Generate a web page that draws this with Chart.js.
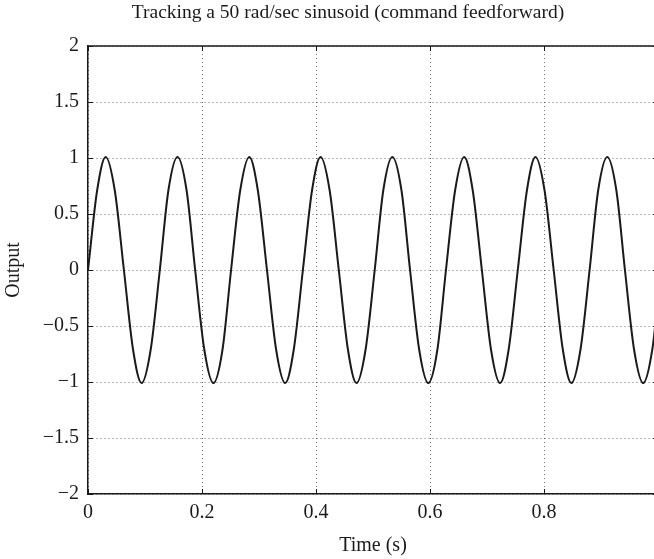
<!DOCTYPE html>
<html><head><meta charset="utf-8">
<style>
html,body{margin:0;padding:0;overflow:hidden;background:#fff;}
canvas{display:block;}
</style>
<script src="https://cdn.jsdelivr.net/npm/chart.js@4/dist/chart.umd.min.js"></script>
</head><body>
<canvas id="c" width="654" height="559" style="width:654px;height:559px"></canvas>
<script>
const chartTitle = 'Tracking a 50 rad/sec sinusoid (command feedforward)';
const xAxisLabel = 'Time (s)';
const yAxisLabel = 'Output';

// values (time in s, output)
const timeS = [0, 0.016, 0.031, 0.047, 0.063, 0.079, 0.094, 0.110,
  0.126, 0.141, 0.157, 0.173, 0.188, 0.204, 0.220, 0.236,
  0.251, 0.267, 0.283, 0.298, 0.314, 0.330, 0.346, 0.361,
  0.377, 0.393, 0.408, 0.424, 0.440, 0.456, 0.471, 0.487,
  0.503, 0.518, 0.534, 0.550, 0.565, 0.581, 0.597, 0.613,
  0.628, 0.644, 0.660, 0.675, 0.691, 0.707, 0.723, 0.738,
  0.754, 0.770, 0.785, 0.801, 0.817, 0.833, 0.848, 0.864,
  0.880, 0.895, 0.911, 0.927, 0.942, 0.958, 0.974, 0.990, 1.000];
const output = [0, 0.71, 1.01, 0.71, 0, -0.71, -1.01, -0.71,
  0, 0.71, 1.01, 0.71, 0, -0.71, -1.01, -0.71,
  0, 0.71, 1.01, 0.71, 0, -0.71, -1.01, -0.71,
  0, 0.71, 1.01, 0.71, 0, -0.71, -1.01, -0.71,
  0, 0.71, 1.01, 0.71, 0, -0.71, -1.01, -0.71,
  0, 0.71, 1.01, 0.71, 0, -0.71, -1.01, -0.71,
  0, 0.71, 1.01, 0.71, 0, -0.71, -1.01, -0.71,
  0, 0.71, 1.01, 0.71, 0, -0.71, -1.01, -0.71, -0.26];

const xTicks = [0, 0.2, 0.4, 0.6, 0.8, 1];
const xTickLabels = ['0', '0.2', '0.4', '0.6', '0.8', '1'];
const yTicks = [-2, -1.5, -1, -0.5, 0, 0.5, 1, 1.5, 2];
const yTickLabels = ['\u22122', '\u22121.5', '\u22121', '\u22120.5', '0', '0.5', '1', '1.5', '2'];

const points = timeS.map((t, i) => ({x: t, y: output[i]}));
const FONT = '"Liberation Serif", "Times New Roman", serif';
const INK = '#1a1a1a';
const PLOT_RIGHT = 658; // the reference's axes box runs just past the picture's right edge

function labelFor(ticks, labels, v) {
  const i = ticks.findIndex(t => Math.abs(t - v) < 1e-9);
  return i >= 0 ? labels[i] : '';
}

const framePlugin = {
  id: 'frame',
  afterLayout(chart) {
    const x = chart.scales.x;
    chart.chartArea.right = PLOT_RIGHT;
    chart.chartArea.width = PLOT_RIGHT - chart.chartArea.left;
    x.right = PLOT_RIGHT;
    x.width = PLOT_RIGHT - x.left;
    x.configure();
  },
  afterDraw(chart) {
    const {ctx, chartArea: a, scales: {x, y}} = chart;
    ctx.save();
    ctx.strokeStyle = INK;
    ctx.lineWidth = 1.5;
    ctx.beginPath();
    ctx.moveTo(a.left, a.top); ctx.lineTo(a.right, a.top); ctx.lineTo(a.right, a.bottom);
    ctx.stroke();
    ctx.lineWidth = 1;
    const L = 5;
    ctx.beginPath();
    xTicks.forEach(v => {
      const px = Math.round(x.getPixelForValue(v)) + 0.5;
      ctx.moveTo(px, a.bottom); ctx.lineTo(px, a.bottom - L);
      ctx.moveTo(px, a.top); ctx.lineTo(px, a.top + L);
    });
    yTicks.forEach(v => {
      const py = Math.round(y.getPixelForValue(v)) + 0.5;
      ctx.moveTo(a.left, py); ctx.lineTo(a.left + L, py);
      ctx.moveTo(a.right, py); ctx.lineTo(a.right - L, py);
    });
    ctx.stroke();
    ctx.fillStyle = INK;
    ctx.font = '19.5px ' + FONT;
    ctx.textAlign = 'center';
    ctx.textBaseline = 'alphabetic';
    ctx.fillText(chartTitle, 348, 17.5);
    ctx.restore();
  }
};

new Chart(document.getElementById('c'), {
  type: 'line',
  data: {
    datasets: [{
      data: points,
      borderColor: INK,
      borderWidth: 2,
      pointRadius: 0,
      fill: false,
      cubicInterpolationMode: 'monotone'
    }]
  },
  options: {
    responsive: false,
    animation: false,
    devicePixelRatio: 1,
    layout: {padding: {top: 46, right: 0, left: 0, bottom: 0}},
    plugins: {legend: {display: false}, tooltip: {enabled: false}, title: {display: false}},
    scales: {
      x: {
        type: 'linear', min: 0, max: 1,
        afterBuildTicks: s => { s.ticks = xTicks.map(v => ({value: v})); },
        afterFit: s => { s.height = 65; s.paddingLeft = 0; s.paddingRight = 0; },
        ticks: {
          callback: v => labelFor(xTicks, xTickLabels, v),
          font: {family: FONT, size: 20}, color: INK, padding: 7, maxRotation: 0, autoSkip: false
        },
        grid: {color: 'rgba(0,0,0,0.55)', lineWidth: 1, drawTicks: false},
        border: {display: true, color: INK, width: 1.5, dash: [1, 3]},
        title: {display: true, text: xAxisLabel, font: {family: FONT, size: 20}, color: INK, padding: {top: 0, bottom: 1}}
      },
      y: {
        type: 'linear', min: -2, max: 2,
        afterBuildTicks: s => { s.ticks = yTicks.map(v => ({value: v})); },
        afterFit: s => { s.width = 88; s.paddingTop = 0; s.paddingBottom = 0; },
        ticks: {
          callback: v => labelFor(yTicks, yTickLabels, v),
          font: {family: FONT, size: 20}, color: INK, padding: 9, autoSkip: false
        },
        grid: {color: 'rgba(0,0,0,0.55)', lineWidth: 1, drawTicks: false},
        border: {display: true, color: INK, width: 1.5, dash: [1, 3]},
        title: {display: true, text: yAxisLabel, font: {family: FONT, size: 20}, color: INK, padding: {top: 2, bottom: 0}}
      }
    }
  },
  plugins: [framePlugin]
});
</script>
</body></html>
